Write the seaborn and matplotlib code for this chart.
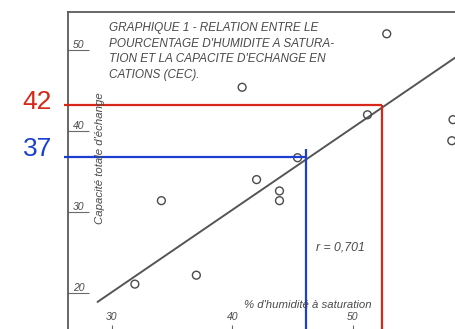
import matplotlib
matplotlib.use("Agg")
import matplotlib.pyplot as plt
import seaborn as sns
import pandas as pd

# Soil samples: moisture at saturation (%) vs total exchange capacity (CEC)
humidity = [52.8, 40.8, 51.2, 58.3, 58.2, 45.4, 42.0, 43.9, 43.9, 34.1, 37.0, 31.9]
cec = [52.0, 45.4, 42.0, 41.4, 38.8, 36.7, 34.0, 32.6, 31.4, 31.4, 22.2, 21.1]

# Fitted regression line (end points)
fit_humidity = [28.8, 60.0]
fit_cec = [18.9, 50.6]

x_ticks = [30, 40, 50]
y_ticks = [20, 30, 40, 50]

title_lines = [
    "GRAPHIQUE 1 - RELATION ENTRE LE",
    "POURCENTAGE D'HUMIDITE A SATURA-",
    "TION ET LA CAPACITE D'ECHANGE EN",
    "CATIONS (CEC).",
]
r_label = "r = 0,701"
x_label = "% d'humidité à saturation"
y_label = "Capacité totale d'échange"

# Reading guides drawn on top of the scanned graph
guide_cec = [42, 37]
guide_humidity = [52.4, 46.1]
guide_colors = ["#d62718", "#1d3fd0"]

W, H, DPI = 455, 329, 100
INK = "#4a4a4a"

sns.set_theme(style="white")
plt.rcParams["font.family"] = ["Liberation Sans", "DejaVu Sans"]

fig = plt.figure(figsize=(W / DPI, H / DPI), dpi=DPI)
fig.patch.set_facecolor("white")

# ---- main graph (only partly visible: right and bottom run off the page)
ax = fig.add_axes([68 / W, 1 - 331 / H, (497.6 - 68) / W, (331 - 12) / H])
ax.set_facecolor("white")
df = pd.DataFrame({"humidity": humidity, "cec": cec})
sns.scatterplot(data=df, x="humidity", y="cec", ax=ax, marker="o", s=32,
                facecolor="none", edgecolor=INK, linewidth=1.0, zorder=3)
fit = pd.DataFrame({"humidity": fit_humidity, "cec": fit_cec})
sns.lineplot(data=fit, x="humidity", y="cec", ax=ax, color="#555555",
             linewidth=1.4, zorder=2)

ax.set_xlim(26.35, 62)
ax.set_ylim(15.31, 54.69)
ax.set_xlabel("")
ax.set_ylabel("")
for side in ax.spines.values():
    side.set_visible(True)
    side.set_color("#5a5a5a")
    side.set_linewidth(1.3)

ax.set_xticks(x_ticks)
ax.set_yticks(y_ticks)
ax.tick_params(axis="y", direction="in", length=15, width=0.8, color="#6a6a6a",
               pad=-3.5, labelsize=7.5, labelcolor=INK, left=True)
ax.tick_params(axis="x", direction="in", length=4.5, width=0.8, color="#6a6a6a",
               pad=-6.5, labelsize=7.5, labelcolor=INK, bottom=True)
for lbl in ax.get_yticklabels():
    lbl.set_ha("left")
    lbl.set_va("bottom")
    lbl.set_style("italic")
for lbl in ax.get_xticklabels():
    lbl.set_va("bottom")
    lbl.set_style("italic")


def px(x, y):
    """Figure fraction from pixel position measured from the top-left."""
    return x / W, 1 - y / H


for i, line in enumerate(title_lines):
    fig.text(*px(109, 28 + 15.7 * i), line, ha="left", va="center",
             fontsize=8.5, style="italic", color=INK)

fig.text(*px(100, 158), y_label, rotation=90, ha="center", va="center",
         fontsize=8.2, style="italic", color=INK)
fig.text(*px(308, 305), x_label, ha="center", va="center",
         fontsize=8.2, style="italic", color=INK)
fig.text(*px(340, 248), r_label, ha="center", va="center",
         fontsize=8.8, style="italic", color=INK)

# ---- overlay with its own scale for the reading guides
ov = fig.add_axes([0, 0, 1, 1])
ov.set_xlim(20.705, 58.46)
ov.set_ylim(20.46, 52.096)
ov.axis("off")
ov.patch.set_alpha(0)

x_start = 26.02
label_x = 25.02
overshoot = [0.0, 0.77]
label_offsets = [2.5, 5.8]
for v, h, c, over, off in zip(guide_cec, guide_humidity, guide_colors,
                              overshoot, label_offsets):
    ov.plot([x_start, h], [v, v], color=c, linewidth=1.6, solid_capstyle="butt")
    ov.plot([h, h], [v + over, 20.46], color=c, linewidth=1.6,
            solid_capstyle="butt")
    ov.annotate(str(v), xy=(label_x, v), xytext=(0, off),
                textcoords="offset points", ha="right", va="center",
                fontsize=19, color=c)

fig.savefig("out.png", dpi=DPI, facecolor="white")
